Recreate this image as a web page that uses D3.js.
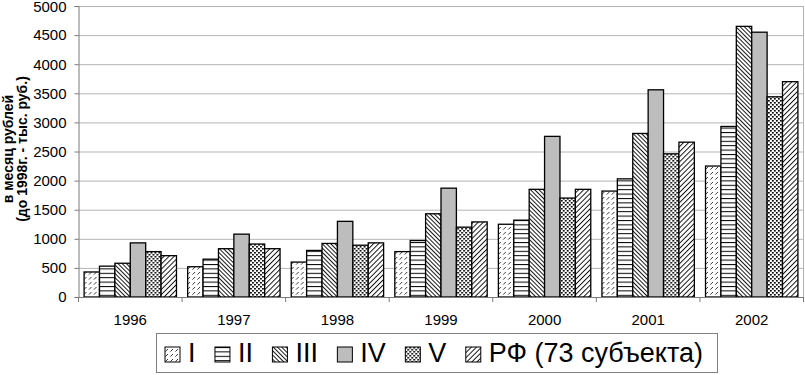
<!DOCTYPE html>
<html>
<head>
<meta charset="utf-8">
<script src="https://cdn.jsdelivr.net/npm/d3@7"></script>
<style>
  body { margin: 0; background: #fff; }
  svg { display: block; font-family: "Liberation Sans", Arial, sans-serif; }
</style>
</head>
<body>
<svg id="chart" width="805" height="375"></svg>
<script>
// Data
const years = ["1996", "1997", "1998", "1999", "2000", "2001", "2002"];
const seriesNames = ["I", "II", "III", "IV", "V", "РФ (73 субъекта)"];
const valuesI   = [430, 520, 600, 780, 1250, 1820, 2250];
const valuesII  = [530, 650, 800, 970, 1320, 2030, 2930];
const valuesIII = [580, 830, 920, 1430, 1850, 2810, 4650];
const valuesIV  = [930, 1080, 1300, 1870, 2760, 3560, 4550];
const valuesV   = [780, 910, 890, 1200, 1700, 2460, 3440];
const valuesRF  = [710, 830, 930, 1290, 1850, 2660, 3700];
const yTicks = [0, 500, 1000, 1500, 2000, 2500, 3000, 3500, 4000, 4500, 5000];
const yTitle = ["в месяц рублей", "(до 1998г. - тыс. руб.)"];

const allValues = [valuesI, valuesII, valuesIII, valuesIV, valuesV, valuesRF];
const data = years.map((yr, i) => ({year: yr, vals: allValues.map(v => v[i])}));

// Configurations
const width = 805;
const marginLeft = 78.5;
const marginRight = 1.5;
const marginTop = 6;
const plotBottom = 297;

const svg = d3.select("#chart");
const defs = svg.append("defs");

// fill patterns, one per series
const pI = defs.append("pattern").attr("id", "p0")
    .attr("patternUnits", "userSpaceOnUse").attr("width", 5).attr("height", 5);
pI.append("rect").attr("width", 5).attr("height", 5).attr("fill", "#fff");
pI.append("path").attr("d", "M0.4,4.6L3,2").attr("stroke", "#222").attr("stroke-width", 0.9);

const pII = defs.append("pattern").attr("id", "p1")
    .attr("patternUnits", "userSpaceOnUse").attr("width", 4).attr("height", 4.4);
pII.append("rect").attr("width", 4).attr("height", 4.4).attr("fill", "#fff");
pII.append("line").attr("x1", 0).attr("x2", 4).attr("y1", 0.5).attr("y2", 0.5)
    .attr("stroke", "#000").attr("stroke-width", 1);

const pIII = defs.append("pattern").attr("id", "p2")
    .attr("patternUnits", "userSpaceOnUse").attr("width", 3).attr("height", 3)
    .attr("patternTransform", "rotate(-45)");
pIII.append("rect").attr("width", 3).attr("height", 3).attr("fill", "#fff");
pIII.append("line").attr("x1", 0.5).attr("x2", 0.5).attr("y1", 0).attr("y2", 3)
    .attr("stroke", "#000").attr("stroke-width", 0.9);

const pIV = defs.append("pattern").attr("id", "p3")
    .attr("patternUnits", "userSpaceOnUse").attr("width", 4).attr("height", 4);
pIV.append("rect").attr("width", 4).attr("height", 4).attr("fill", "#bdbdbd");

const pV = defs.append("pattern").attr("id", "p4")
    .attr("patternUnits", "userSpaceOnUse").attr("width", 4).attr("height", 4);
pV.append("rect").attr("width", 4).attr("height", 4).attr("fill", "#fff");
pV.append("rect").attr("x", 0).attr("y", 0).attr("width", 1.8).attr("height", 1.6).attr("fill", "#000");
pV.append("rect").attr("x", 2).attr("y", 2).attr("width", 1.8).attr("height", 1.6).attr("fill", "#000");

const pRF = defs.append("pattern").attr("id", "p5")
    .attr("patternUnits", "userSpaceOnUse").attr("width", 3.6).attr("height", 3.6)
    .attr("patternTransform", "rotate(45)");
pRF.append("rect").attr("width", 3.6).attr("height", 3.6).attr("fill", "#fff");
pRF.append("line").attr("x1", 0.5).attr("x2", 0.5).attr("y1", 0).attr("y2", 3.6)
    .attr("stroke", "#000").attr("stroke-width", 0.9);

// scales
const x0 = d3.scaleBand(years, [marginLeft, width - marginRight]);
const groupPad = x0.bandwidth() * 0.054;
const x1 = d3.scaleBand(d3.range(seriesNames.length), [groupPad, x0.bandwidth() - groupPad]);
const y = d3.scaleLinear([0, 5000], [plotBottom, marginTop]);

// gridlines
svg.append("g")
    .selectAll("line")
    .data(yTicks.filter(d => d > 0))
    .join("line")
    .attr("x1", marginLeft).attr("x2", width - marginRight)
    .attr("y1", d => y(d) + 0.5).attr("y2", d => y(d) + 0.5)
    .attr("stroke", "#b4b4b4").attr("stroke-width", 1);

// right border of plot area
svg.append("line")
    .attr("x1", width - marginRight).attr("x2", width - marginRight)
    .attr("y1", y(5000)).attr("y2", plotBottom)
    .attr("stroke", "#b4b4b4");

// bars
svg.append("g")
    .selectAll("g")
    .data(data)
    .join("g")
    .attr("transform", d => `translate(${x0(d.year)},0)`)
    .selectAll("rect")
    .data(d => d.vals)
    .join("rect")
    .attr("x", (d, i) => x1(i))
    .attr("y", d => y(d))
    .attr("width", x1.bandwidth())
    .attr("height", d => plotBottom - y(d))
    .attr("fill", (d, i) => `url(#p${i})`)
    .attr("stroke", "#000")
    .attr("stroke-width", 1.3);

// y axis
const yAxis = d3.axisLeft(y).tickValues(yTicks).tickSize(4).tickFormat(d3.format("d"));
svg.append("g")
    .attr("transform", `translate(${marginLeft},0)`)
    .call(yAxis)
    .call(g => g.select(".domain").attr("stroke", "#7a7a7a"))
    .call(g => g.selectAll(".tick line").attr("stroke", "#7a7a7a"))
    .call(g => g.selectAll(".tick text")
        .attr("x", -12)
        .attr("dy", d => d === 5000 ? "0.38em" : "0.32em")
        .attr("font-size", 15)
        .attr("font-family", "Liberation Sans, Arial, sans-serif")
        .attr("fill", "#000"));

// x axis with ticks between categories
svg.append("line")
    .attr("x1", marginLeft).attr("x2", width - marginRight)
    .attr("y1", plotBottom + 0.5).attr("y2", plotBottom + 0.5)
    .attr("stroke", "#7a7a7a");
svg.append("g")
    .selectAll("line")
    .data(years.concat(["end"]))
    .join("line")
    .attr("x1", (d, i) => i < years.length ? x0(d) : x0(years[years.length - 1]) + x0.bandwidth())
    .attr("x2", (d, i) => i < years.length ? x0(d) : x0(years[years.length - 1]) + x0.bandwidth())
    .attr("y1", plotBottom).attr("y2", plotBottom + 5)
    .attr("stroke", "#7a7a7a");
svg.append("g")
    .selectAll("text")
    .data(years)
    .join("text")
    .attr("x", d => x0(d) + x0.bandwidth() / 2)
    .attr("y", 325)
    .attr("text-anchor", "middle")
    .attr("font-size", 15)
    .text(d => d);

// y axis title (two lines, rotated)
const yTitleG = svg.append("g").attr("transform", "translate(0,149) rotate(-90)");
yTitleG.selectAll("text")
    .data(yTitle)
    .join("text")
    .attr("x", 0)
    .attr("y", (d, i) => 12.5 + i * 14.5)
    .attr("text-anchor", "middle")
    .attr("font-size", 14)
    .attr("font-weight", "bold")
    .text(d => d);

// legend
const legendBox = {x: 156, y: 333, w: 561, h: 39};
svg.append("rect")
    .attr("x", legendBox.x + 0.5).attr("y", legendBox.y + 0.5)
    .attr("width", legendBox.w).attr("height", legendBox.h)
    .attr("fill", "#fff").attr("stroke", "#808080");

const swatch = 15;
const legend = svg.append("g");
const items = legend.selectAll("g")
    .data(seriesNames)
    .join("g");
items.append("rect")
    .attr("width", swatch).attr("height", swatch)
    .attr("fill", (d, i) => `url(#p${i})`)
    .attr("stroke", "#000").attr("stroke-width", 1);
items.append("text")
    .attr("x", swatch + 8)
    .attr("y", swatch - 0.5)
    .attr("font-size", 27)
    .text(d => d);

// distribute items across the box
const textW = items.select("text").nodes().map(n => n.getComputedTextLength());
const startX = 165, endX = 703;
const itemW = textW.map(w => swatch + 8 + w);
const gap = (endX - startX - d3.sum(itemW)) / (seriesNames.length - 1);
let cx = startX;
items.attr("transform", (d, i) => {
    const t = `translate(${cx},${347})`;
    cx += itemW[i] + gap;
    return t;
});
</script>
</body>
</html>
